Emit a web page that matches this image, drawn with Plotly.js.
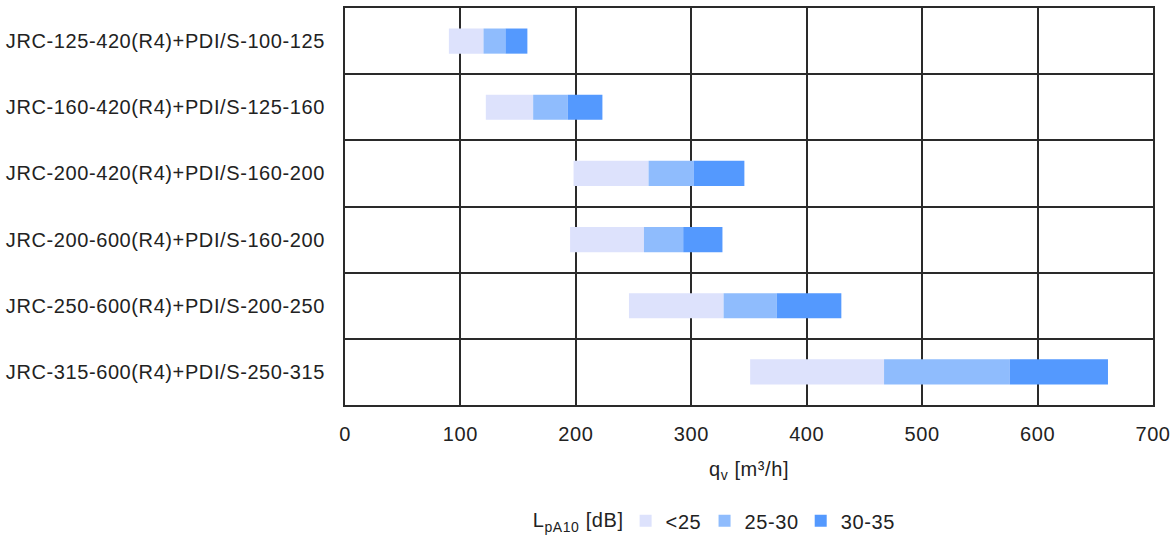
<!DOCTYPE html>
<html>
<head>
<meta charset="utf-8">
<script src="https://cdn.plot.ly/plotly-3.0.1.min.js"></script>
<style>
html,body{margin:0;padding:0;background:#fff}
#chart{width:1174px;height:542px}
#chart text{letter-spacing:0.6px}
</style>
</head>
<body>
<div id="chart"></div>
<script>
const categories = [
  "JRC-125-420(R4)+PDI/S-100-125",
  "JRC-160-420(R4)+PDI/S-125-160",
  "JRC-200-420(R4)+PDI/S-160-200",
  "JRC-200-600(R4)+PDI/S-160-200",
  "JRC-250-600(R4)+PDI/S-200-250",
  "JRC-315-600(R4)+PDI/S-250-315"
];
// flow rate boundaries [m3/h]
const qStart  = [90, 122, 198, 195, 246, 351];
const q25     = [120, 163, 263, 259, 328, 467];
const q30     = [139, 193, 302, 293, 374, 576];
const q35     = [158, 223, 346, 327, 430, 661];
const seriesNames = ["<25", "25-30", "30-35"];
const colors = ["#dde2fc", "#8fbcfd", "#5499fe"];

const starts = [qStart, q25, q30];
const ends = [q25, q30, q35];
const traces = seriesNames.map((name, i) => ({
  type: "bar",
  orientation: "h",
  name: name,
  y: categories,
  base: starts[i],
  x: ends[i].map((v, k) => v - starts[i][k]),
  marker: {color: colors[i], line: {width: 0}},
  width: 0.38,
  hoverinfo: "skip"
}));

const layout = {
  width: 1174, height: 542,
  margin: {l: 345, r: 21, t: 8, b: 137, autoexpand: false},
  paper_bgcolor: "#fff", plot_bgcolor: "#fff",
  barmode: "overlay",
  font: {family: "Liberation Sans, Arial, sans-serif", size: 20, color: "#222"},
  showlegend: true,
  legend: {
    orientation: "h", xref: "container", yref: "container",
    x: 0.452, xanchor: "left", y: 0.039, yanchor: "middle",
    title: {text: "L<sub>pA10</sub> [dB]", side: "left", font: {size: 20}},
    font: {size: 20, color: "#222"},
    traceorder: "normal"
  },
  xaxis: {
    range: [0, 700], dtick: 100, tick0: 0,
    showgrid: true, gridcolor: "#2a2a2a", gridwidth: 2,
    showline: true, mirror: true, linecolor: "#2a2a2a", linewidth: 2,
    zeroline: false, ticks: "", ticklabelstandoff: 10,
    tickfont: {size: 20, color: "#222"},
    title: {text: "q<sub>v</sub> [m³/h]", font: {size: 20, color: "#222"}, standoff: 18}
  },
  yaxis: {
    type: "category", autorange: "reversed",
    tickson: "boundaries",
    showgrid: true, gridcolor: "#2a2a2a", gridwidth: 2,
    showline: true, mirror: true, linecolor: "#2a2a2a", linewidth: 2,
    ticks: "", ticklabelstandoff: 14,
    tickfont: {size: 20, color: "#222"}
  }
};

Plotly.newPlot("chart", traces, layout, {displayModeBar: false, staticPlot: true});
</script>
</body>
</html>
